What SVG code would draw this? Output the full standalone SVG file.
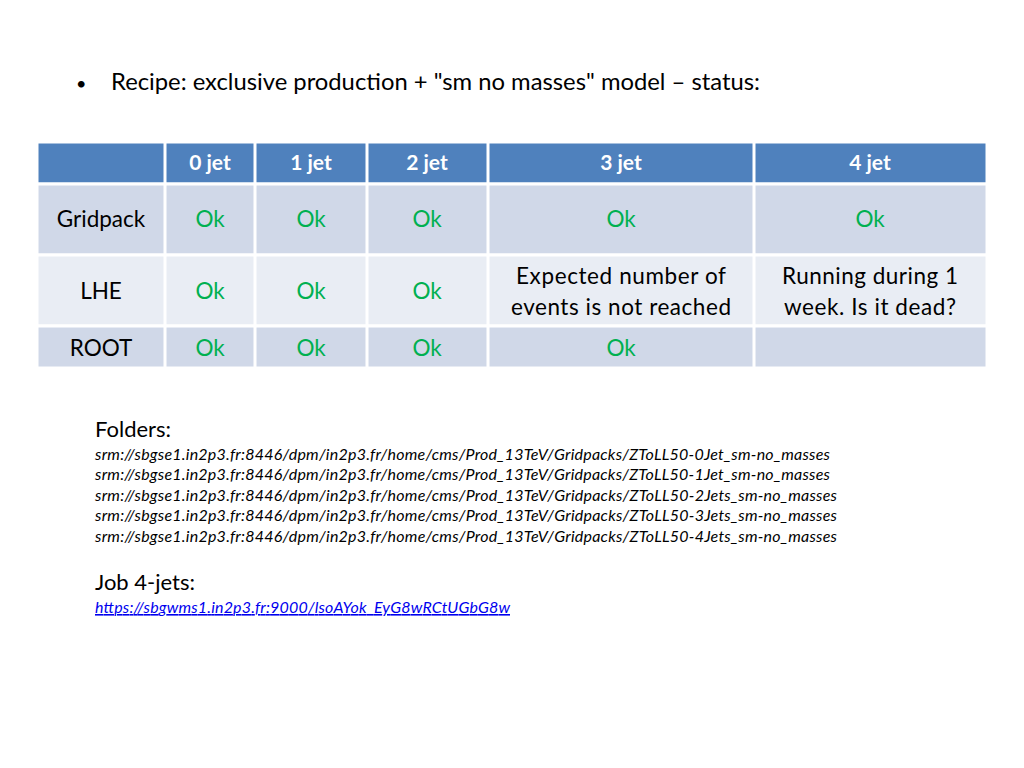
<svg xmlns="http://www.w3.org/2000/svg" width="1024" height="768" viewBox="0 0 1024 768">
<style>
text{font-family:Lato,"Liberation Sans",sans-serif;fill:#000}
.h{fill:#fff;font-weight:bold;font-size:21px;text-anchor:middle}
.c{font-size:22.5px;text-anchor:middle}
.ok{fill:#00B050}
.s{font-style:italic;font-size:16px}
.hd{fill:#4F81BD}.d{fill:#D0D8E8}.l{fill:#E9EDF4}
</style>
<rect width="1024" height="768" fill="#fff"/>
<text x="76" y="90" font-size="18">•</text>
<text x="111" y="90" font-size="22.5" textLength="649" lengthAdjust="spacingAndGlyphs">Recipe: exclusive production + "sm no masses" model – status:</text>
<g id="table" stroke="#fff" stroke-width="3">
<rect class="hd" x="37" y="142" width="950" height="42"/>
<rect class="d" x="37" y="184" width="950" height="71"/>
<rect class="l" x="37" y="255" width="950" height="71"/>
<rect class="d" x="37" y="326" width="950" height="42"/>
<g fill="none"><path d="M165 142V368M255 142V368M367 142V368M488 142V368M754 142V368"/></g>
</g>
<g id="cells">
<text class="h" x="210" y="170">0 jet</text><text class="h" x="311" y="170">1 jet</text><text class="h" x="427" y="170">2 jet</text><text class="h" x="621" y="170">3 jet</text><text class="h" x="870" y="170">4 jet</text>
<text class="c" x="101" y="227">Gridpack</text>
<text class="c ok" x="210" y="227">Ok</text><text class="c ok" x="311" y="227">Ok</text><text class="c ok" x="427" y="227">Ok</text><text class="c ok" x="621" y="227">Ok</text><text class="c ok" x="870" y="227">Ok</text>
<text class="c" x="101" y="299">LHE</text>
<text class="c ok" x="210" y="299">Ok</text><text class="c ok" x="311" y="299">Ok</text><text class="c ok" x="427" y="299">Ok</text>
<text class="c" x="621" y="284" textLength="210">Expected number of</text><text class="c" x="621" y="315" textLength="220">events is not reached</text>
<text class="c" x="870" y="284" textLength="176">Running during 1</text><text class="c" x="870" y="315" textLength="172">week. Is it dead?</text>
<text class="c" x="101" y="356">ROOT</text>
<text class="c ok" x="210" y="356">Ok</text><text class="c ok" x="311" y="356">Ok</text><text class="c ok" x="427" y="356">Ok</text><text class="c ok" x="621" y="356">Ok</text>
</g>
<text x="95" y="437" font-size="22">Folders:</text>
<text class="s" x="95" y="460" textLength="735">srm://sbgse1.in2p3.fr:8446/dpm/in2p3.fr/home/cms/Prod_13TeV/Gridpacks/ZToLL50-0Jet_sm-no_masses</text>
<text class="s" x="95" y="480" textLength="735">srm://sbgse1.in2p3.fr:8446/dpm/in2p3.fr/home/cms/Prod_13TeV/Gridpacks/ZToLL50-1Jet_sm-no_masses</text>
<text class="s" x="95" y="501" textLength="742">srm://sbgse1.in2p3.fr:8446/dpm/in2p3.fr/home/cms/Prod_13TeV/Gridpacks/ZToLL50-2Jets_sm-no_masses</text>
<text class="s" x="95" y="521" textLength="742">srm://sbgse1.in2p3.fr:8446/dpm/in2p3.fr/home/cms/Prod_13TeV/Gridpacks/ZToLL50-3Jets_sm-no_masses</text>
<text class="s" x="95" y="542" textLength="742">srm://sbgse1.in2p3.fr:8446/dpm/in2p3.fr/home/cms/Prod_13TeV/Gridpacks/ZToLL50-4Jets_sm-no_masses</text>
<text x="95" y="590" font-size="22">Job 4-jets:</text>
<text class="s" x="95" y="613" textLength="415" style="fill:#0000EE;text-decoration:underline">https://sbgwms1.in2p3.fr:9000/lsoAYok_EyG8wRCtUGbG8w</text>
</svg>
